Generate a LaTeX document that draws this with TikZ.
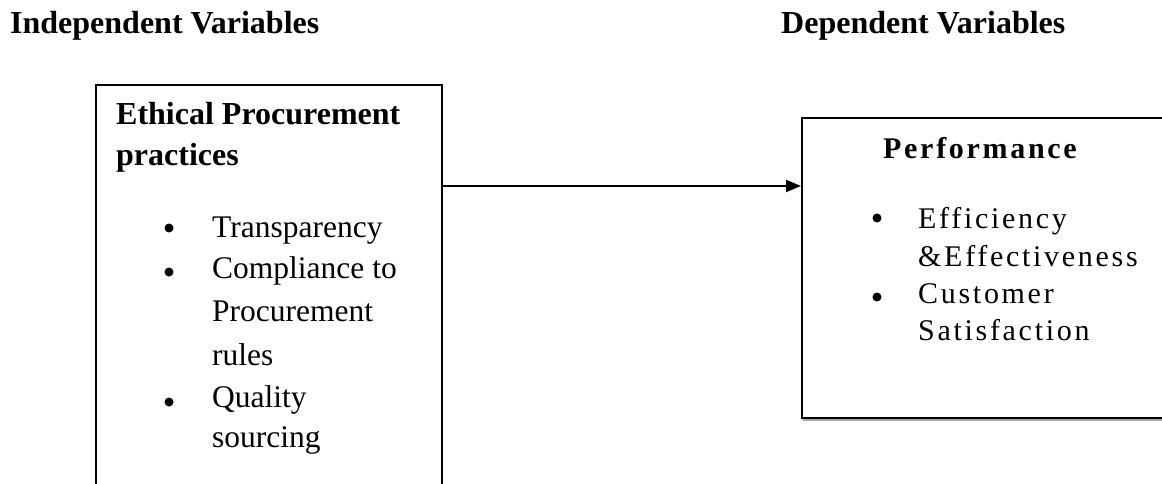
\documentclass[tikz,border=0pt]{standalone}
\usepackage{fontspec}
\setmainfont{Liberation Serif}
\newfontfamily\spaced[LetterSpace=9]{Liberation Serif}
\usetikzlibrary{arrows.meta}
\begin{document}
\begin{tikzpicture}[x=1pt,y=-1pt,
  txt/.style={anchor=base west,inner sep=0pt,align=left,font=\fontsize{31.5}{42}\selectfont},
  rtxt/.style={anchor=base west,inner sep=0pt,align=left,font=\fontsize{30}{37.5}\selectfont\spaced},
  ttl/.style={anchor=base west,inner sep=0pt,font=\fontsize{32}{38}\selectfont\bfseries},
  box/.style={draw,line width=2.2pt,rectangle,inner sep=0pt,anchor=north west},
  dot/.style={circle,fill,inner sep=0pt,minimum size=9pt},
  conn/.style={line width=2.2pt,-{Triangle[length=15pt,width=12pt]}}]
\useasboundingbox (0,0) rectangle (1162,484);
\clip (0,0) rectangle (1162,484);
% titles
\node[ttl] (ti) at (10,34) {Independent Variables};
\node[ttl] (td) at (781,34) {Dependent Variables};
% left box
\node[box,minimum width=346pt,minimum height=430pt] (L) at (95,84) {};
% (base anchor of a multi-line node = baseline of its last line)
\node[txt,font=\fontsize{32}{40}\selectfont\bfseries] (lh) at (116,165) {Ethical Procurement\\practices};
\node[dot] (b1) at (169,228) {};
\node[txt] (i1) at (212,237) {Transparency};
\node[dot] (b2) at (169,272) {};
\node[txt,font=\fontsize{31.5}{43.5}\selectfont] (i2) at (212,365) {Compliance to\\Procurement\\rules};
\node[dot] (b3) at (169,402) {};
\node[txt,font=\fontsize{31.5}{40}\selectfont] (i3) at (212,447) {Quality\\sourcing};
% right box with shadow
\draw[gray!70,line width=2pt] (803,419.5) -- (1170,419.5);
\node[box,fill=white,minimum width=400pt,minimum height=300pt] (R) at (801,117) {};
\node[rtxt,font=\fontsize{30}{37.5}\selectfont\spaced\bfseries] (rh) at (883,158) {Performance};
\node[dot] (c1) at (877,218) {};
\node[rtxt,font=\fontsize{30}{38}\selectfont\spaced] (j1) at (918,266) {Efficiency\\\&Effectiveness};
\node[dot] (c2) at (877,297) {};
\node[rtxt,font=\fontsize{30}{37}\selectfont\spaced] (j2) at (918,340) {Customer\\Satisfaction};
% connector
\coordinate (lvl) at (0,186);
\draw[conn] (L.east |- lvl) -- (R.west |- lvl);
\end{tikzpicture}
\end{document}
